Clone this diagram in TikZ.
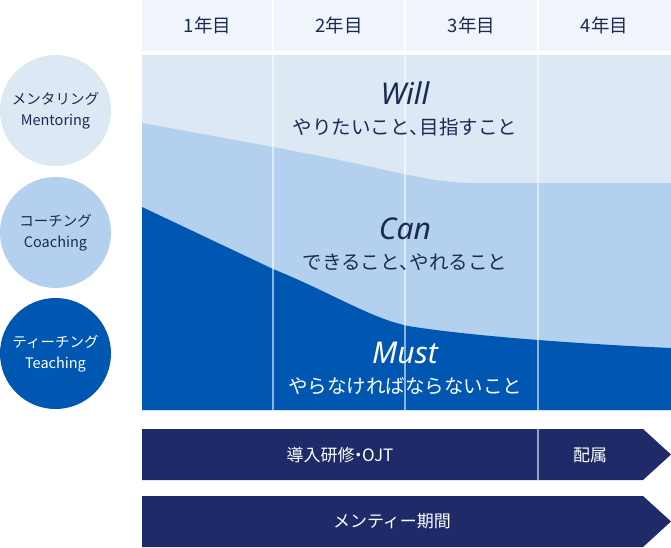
\documentclass[tikz,border=0pt]{standalone}
\usepackage{fontspec}
\setmainfont{Noto Sans CJK JP}
\newfontfamily\latinfont{Noto Sans}
\definecolor{headbg}{HTML}{F0F5FC}
\definecolor{willc}{HTML}{DCE8F4}
\definecolor{canc}{HTML}{B3D1EE}
\definecolor{mustc}{HTML}{0057B1}
\definecolor{navy}{HTML}{1F2A68}
\definecolor{txt}{HTML}{1B2A52}
\begin{document}
\begin{tikzpicture}[x=1pt,y=-1pt,
  circ/.style={circle,minimum size=111pt,inner sep=0pt,align=center,
    font=\fontsize{14.5}{21}\selectfont},
  headtxt/.style={text=txt,font=\fontsize{18.5}{22}\selectfont},
  bigword/.style={font=\latinfont\itshape\fontsize{30}{34}\selectfont},
  subword/.style={font=\fontsize{19.5}{23}\selectfont},
  arrtxt/.style={text=white,font=\fontsize{17}{21}\selectfont},
  divider/.style={white,line width=1.6pt,opacity=0.55}]
\useasboundingbox (0,0) rectangle (671,547);

% header
\fill[headbg] (142,0) rectangle (671,51);
% chart layers
\fill[willc] (142,55) rectangle (671,410);
\fill[canc] (142,123) -- (273,147) -- (330,158)
  .. controls (415,176) and (435,183) .. (478,183)
  -- (671,183) -- (671,410) -- (142,410) -- cycle;
\fill[mustc] (142,207) -- (273,269)
  .. controls (330,292) and (370,318) .. (408,326)
  .. controls (470,336) and (580,344) .. (671,348)
  -- (671,410) -- (142,410) -- cycle;

% column dividers
\foreach \xx in {273,405,538}{
  \draw[white,line width=2pt] (\xx,0) -- (\xx,55);
  \draw[divider] (\xx,55) -- (\xx,410);
}

% header labels
\node[headtxt] (y1) at (207.5,25) {1年目};
\node[headtxt] (y2) at (339,25) {2年目};
\node[headtxt] (y3) at (471.5,25) {3年目};
\node[headtxt] (y4) at (604.5,25) {4年目};

% chart labels
\node[bigword,text=txt] (will) at (405,93) {Will};
\node[subword,text=txt] (willsub) at (405,127) {やりたいこと、\kern-0.45em目指すこと};
\node[bigword,text=txt] (can) at (405,229) {Can};
\node[subword,text=txt] (cansub) at (405,262) {できること、\kern-0.45emやれること};
\node[bigword,text=white] (must) at (405,353) {Must};
\node[subword,text=white] (mustsub) at (405,386) {やらなければならないこと};

% circles
\node[circ,fill=willc,text=txt] (mentor) at (55.5,110.5) {メンタリング\\Mentoring};
\node[circ,fill=canc,text=txt] (coach) at (55.5,232.5) {コーチング\\Coaching};
\node[circ,fill=mustc,text=white] (teach) at (55.5,353.5) {ティーチング\\Teaching};

% arrows
\fill[navy] (142,429) -- (643,429) -- (671,454.5) -- (643,480) -- (142,480) -- cycle;
\draw[divider] (538,429) -- (538,480);
\node[arrtxt] (ojt) at (340,455) {導入研修\kern-0.28em・\kern-0.28em OJT};
\node[arrtxt] (haizoku) at (590,455) {配属};
\fill[navy] (142,496) -- (643,496) -- (671,521.5) -- (643,547) -- (142,547) -- cycle;
\node[arrtxt] (mentee) at (392,521.5) {メンティー期間};
\end{tikzpicture}
\end{document}
